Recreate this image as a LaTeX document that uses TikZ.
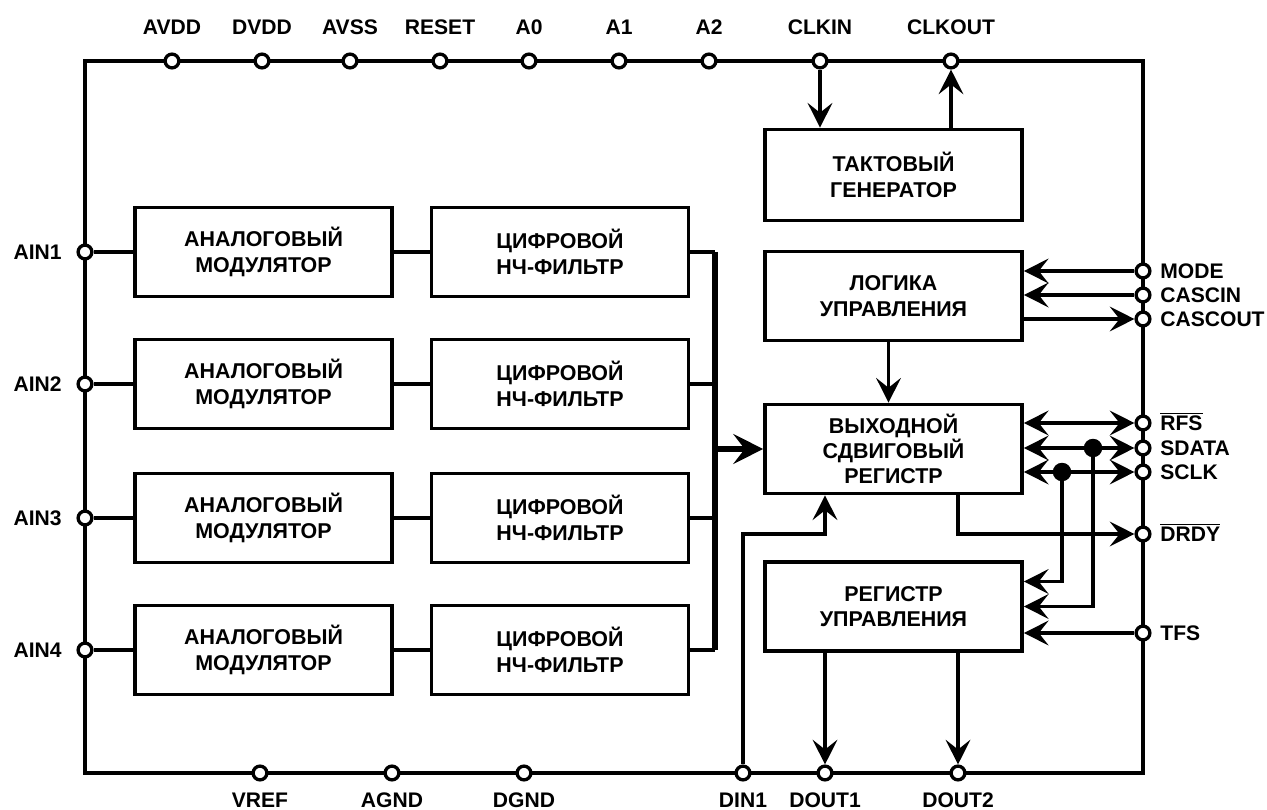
\documentclass[tikz,border=0pt]{standalone}
\usepackage{fontspec}
\setmainfont{Liberation Sans}
\usetikzlibrary{arrows.meta,positioning,calc}
\newcommand{\ovl}[1]{$\overline{\hbox{#1}}$}
\tikzset{
  blk/.style={draw, line width=2.1pt, align=center, inner sep=0pt, minimum width=5.14cm, minimum height=1.78cm, font=\bfseries\fontsize{12.2}{14.4}\selectfont},
  term/.style={circle, draw, fill=white, line width=1.9pt, minimum size=2.75mm, inner sep=0pt},
  jn/.style={circle, fill, minimum size=3.7mm, inner sep=0pt},
  lbl/.style={font=\bfseries\fontsize{12}{14}\selectfont, inner sep=0pt},
  wire/.style={line width=2.1pt},
  arr/.style={-{Stealth[length=14pt, width=14pt, inset=5.5pt]}, line width=2.1pt},
  arr2/.style={{Stealth[length=14pt, width=14pt, inset=5.5pt]}-{Stealth[length=14pt, width=14pt, inset=5.5pt]}, line width=2.1pt},
  bus/.style={line width=3.3pt},
  busarr/.style={-{Stealth[length=17pt, width=17pt, inset=6.5pt]}, line width=3.3pt},
}
\begin{document}
\begin{tikzpicture}[x=0.02cm, y=-0.02cm]
  \useasboundingbox (0,0) rectangle (1267,810);
  \draw[wire] (85,61) rectangle (1143,773);
  \foreach \x/\n in {172/AVDD,262/DVDD,350/AVSS,440/RESET,529/A0,619/A1,709/A2,820/CLKIN,951/CLKOUT}{
    \node[term] (\n) at (\x,61) {};
    \node[lbl] (l\n) at (\x,27) {\n};
  }
  \foreach \x/\n in {260/VREF,392/AGND,524/DGND,743/DIN1,825/DOUT1,958/DOUT2}{
    \node[term] (\n) at (\x,773) {};
    \node[lbl] (l\n) at (\x,800) {\n};
  }
  \foreach \y/\n/\t in {271/MODE/MODE,295/CASCIN/CASCIN,319/CASCOUT/CASCOUT,423/RFS/\ovl{RFS},448/SDATA/SDATA,472/SCLK/SCLK,534/DRDY/\ovl{DRDY},633/TFS/TFS}{
    \node[term] (\n) at (1143,\y) {};
    \node[lbl, anchor=base west] (l\n) at (1160,\y+7.5) {\t};
  }
  \coordinate (bt) at (715,252);
  \coordinate (bb) at (715,650);
  \draw[bus] (bt) -- (bb);
  \foreach \i/\y in {1/252,2/384,3/518,4/650}{
    \node[term] (AIN\i) at (85,\y) {};
    \node[lbl, anchor=base east] (lAIN\i) at (62,\y+7.5) {AIN\i};
    \node[blk] (m\i) at (263.5,\y) {АНАЛОГОВЫЙ\\МОДУЛЯТОР};
    \node[blk] (f\i) at (560,\y) {ЦИФРОВОЙ\\НЧ-ФИЛЬТР};
    \draw[wire] (AIN\i) -- (m\i);
    \draw[wire] (m\i) -- (f\i);
    \draw[wire] (f\i) -- (f\i.east -| bt);
  }
  \node[blk, minimum height=1.82cm] (gen) at (893.5,175) {ТАКТОВЫЙ\\ГЕНЕРАТОР};
  \node[blk] (logic) at (893.5,296) {ЛОГИКА\\УПРАВЛЕНИЯ};
  \node[blk] (sreg) at (893.5,449) {ВЫХОДНОЙ\\СДВИГОВЫЙ\\РЕГИСТР};
  \node[blk] (creg) at (893.5,606.5) {РЕГИСТР\\УПРАВЛЕНИЯ};
  \draw[busarr] (bt |- sreg.west) -- (sreg.west);
  \draw[arr] (CLKIN) -- (CLKIN |- gen.north);
  \draw[arr] (CLKOUT |- gen.north) -- (CLKOUT);
  \draw[arr] (MODE) -- (MODE -| logic.east);
  \draw[arr] (CASCIN) -- (CASCIN -| logic.east);
  \draw[arr] (CASCOUT -| logic.east) -- (CASCOUT);
  \draw[arr] ([xshift=-0.1cm]logic.south) -- ([xshift=-0.1cm]sreg.north);
  \foreach \n in {RFS,SDATA,SCLK} \draw[arr2] (\n -| sreg.east) -- (\n);
  \draw[arr] (1093,448) |- (creg.east);
  \draw[arr] (1062,472) |- ([yshift=0.5cm]creg.east);
  \node[jn] (j1) at (1093,448) {};
  \node[jn] (j2) at (1062,472) {};
  \draw[arr] (TFS) -- (TFS -| creg.east);
  \draw[arr] (sreg.south -| DOUT2) |- (DRDY);
  \draw[arr] (DIN1) |- (DOUT1 |- DRDY) -- (sreg.south -| DOUT1);
  \draw[arr] (creg.south -| DOUT1) -- (DOUT1);
  \draw[arr] (creg.south -| DOUT2) -- (DOUT2);
\end{tikzpicture}
\end{document}
